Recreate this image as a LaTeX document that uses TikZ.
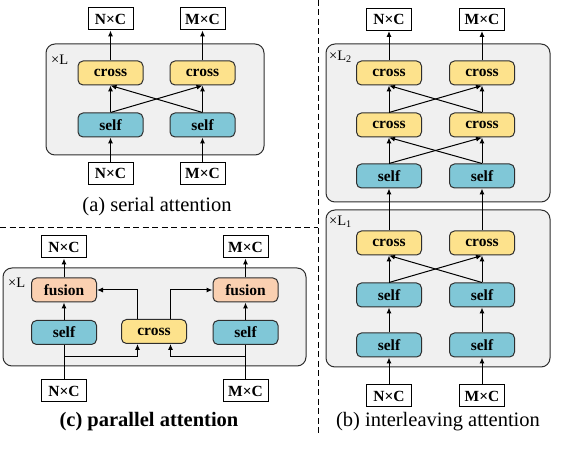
\documentclass[tikz,border=0pt]{standalone}
\usepackage{fontspec}
\setmainfont{Liberation Serif}[BoldFont={Liberation Serif Bold}]
\usetikzlibrary{positioning, arrows.meta, calc}
\definecolor{crossyel}{HTML}{FDE28C}
\definecolor{selfblue}{HTML}{80C7D7}
\definecolor{fusepeach}{HTML}{FAD0B1}
\definecolor{layergray}{HTML}{F0F0F0}
\definecolor{edgegray}{HTML}{2E2E2E}
\tikzset{blk/.style={draw=edgegray, line width=1pt, rounded corners=5pt, minimum width=65pt, minimum height=24pt, inner sep=0pt, font=\fontsize{15.5}{16}\selectfont\bfseries}}
\tikzset{crossblk/.style={blk, fill=crossyel}, selfblk/.style={blk, fill=selfblue}, fuseblk/.style={blk, fill=fusepeach}}
\tikzset{io/.style={draw, line width=1pt, fill=white, minimum width=45pt, minimum height=22pt, inner sep=0pt, font=\fontsize{15.5}{16}\selectfont\bfseries}}
\tikzset{layer/.style={draw=edgegray, line width=1pt, fill=layergray, rounded corners=9pt}}
\tikzset{arr/.style={-{Latex[length=6pt,width=5pt]}, line width=1pt}}
\tikzset{capt/.style={font=\fontsize{20.5}{22}\selectfont}, rep/.style={anchor=west, inner sep=0pt, font=\fontsize{14.5}{15}\selectfont}}

\begin{document}
\begin{tikzpicture}[x=1pt, y=1pt]
    \useasboundingbox (0,0) rectangle (582,472);

    % separators
    \draw[dashed, dash pattern=on 6pt off 3.5pt, line width=1pt] (318,472) -- (318,39);
    \draw[dashed, dash pattern=on 6pt off 3.5pt, line width=1pt] (0,244) -- (318,244);

    % (a) serial
    \draw[layer] (46,428) rectangle (264,317);
    \node[rep] (aRep) at (51,412) {×L};

    \node[crossblk] (aCrossN) at (110.5,399) {cross};
    \node[crossblk] (aCrossM) at (202.5,399) {cross};
    \node[selfblk, below=27pt of aCrossN] (aSelfN) {self};
    \node[selfblk, below=27pt of aCrossM] (aSelfM) {self};

    \node[io, above=30pt of aCrossN] (aOutN) {N×C};
    \node[io, above=30pt of aCrossM] (aOutM) {M×C};
    \node[io, below=24.5pt of aSelfN] (aInN) {N×C};
    \node[io, below=24.5pt of aSelfM] (aInM) {M×C};

    \draw[arr] (aInN) -- (aSelfN);
    \draw[arr] (aInM) -- (aSelfM);
    \draw[arr] (aSelfN) -- (aCrossN);
    \draw[arr] (aSelfM) -- (aCrossM);
    \draw[arr] (aSelfN.north) -- (aCrossM.south);
    \draw[arr] (aSelfM.north) -- (aCrossN.south);
    \draw[arr] (aCrossN) -- (aOutN);
    \draw[arr] (aCrossM) -- (aOutM);

    \node[capt] (capA) at (157,265) {(a) serial attention};

    % (c) parallel
    \draw[layer] (3,204) rectangle (306,106);
    \node[rep] (cRep) at (8,189) {×L};

    \node[fuseblk] (cFuseN) at (64,182) {fusion};
    \node[fuseblk] (cFuseM) at (245.5,182) {fusion};
    \node[selfblk, below=17.5pt of cFuseN] (cSelfN) {self};
    \node[selfblk, below=17.5pt of cFuseM] (cSelfM) {self};
    \node[crossblk] (cCross) at (154,140.5) {cross};

    \node[io, above=19pt of cFuseN] (cOutN) {N×C};
    \node[io, above=19pt of cFuseM] (cOutM) {M×C};
    \node[io, below=34.5pt of cSelfN] (cInN) {N×C};
    \node[io, below=34.5pt of cSelfM] (cInM) {M×C};

    \coordinate (cSplitN) at (64,115);
    \coordinate (cSplitM) at (245.5,115);

    \draw (cInN) -- (cSelfN);
    \draw (cInM) -- (cSelfM);
    \draw[arr] (cSplitN) -| ([xshift=-16.5pt]cCross.south);
    \draw[arr] (cSplitM) -| ([xshift=16.5pt]cCross.south);
    \draw[arr] ([xshift=-16.5pt]cCross.north) |- (cFuseN.east);
    \draw[arr] ([xshift=16.5pt]cCross.north) |- (cFuseM.west);
    \draw[arr] (cSelfN) -- (cFuseN);
    \draw[arr] (cSelfM) -- (cFuseM);
    \draw[arr] (cFuseN) -- (cOutN);
    \draw[arr] (cFuseM) -- (cOutM);

    \node[capt, font=\fontsize{20.5}{22}\selectfont\bfseries] (capC) at (149,50) {(c) parallel attention};

    % (b) interleaving
    \draw[layer] (326,428) rectangle (550,270);
    \draw[layer] (326,262) rectangle (550,105);
    \node[rep] (bRepTwo) at (329,415) {×L\textsubscript{2}};
    \node[rep] (bRepOne) at (329,250) {×L\textsubscript{1}};

    \node[crossblk] (bTopN) at (389,399) {cross};
    \node[crossblk] (bTopM) at (482,399) {cross};
    \node[crossblk, below=27pt of bTopN] (bMidN) {cross};
    \node[crossblk, below=27pt of bTopM] (bMidM) {cross};
    \node[selfblk, below=26pt of bMidN] (bSelfN) {self};
    \node[selfblk, below=26pt of bMidM] (bSelfM) {self};

    \node[crossblk, below=42pt of bSelfN] (bLowN) {cross};
    \node[crossblk, below=42pt of bSelfM] (bLowM) {cross};
    \node[selfblk, below=27pt of bLowN] (bSelfAN) {self};
    \node[selfblk, below=27pt of bLowM] (bSelfAM) {self};
    \node[selfblk, below=25pt of bSelfAN] (bSelfBN) {self};
    \node[selfblk, below=25pt of bSelfAM] (bSelfBM) {self};

    \node[io, above=29.5pt of bTopN] (bOutN) {N×C};
    \node[io, above=29.5pt of bTopM] (bOutM) {M×C};
    \node[io, below=27pt of bSelfBN] (bInN) {N×C};
    \node[io, below=27pt of bSelfBM] (bInM) {M×C};

    \draw[arr] (bInN) -- (bSelfBN);
    \draw[arr] (bInM) -- (bSelfBM);
    \draw[arr] (bSelfBN) -- (bSelfAN);
    \draw[arr] (bSelfBM) -- (bSelfAM);
    \draw[arr] (bSelfAN) -- (bLowN);
    \draw[arr] (bSelfAM) -- (bLowM);
    \draw[arr] (bSelfAN.north) -- (bLowM.south);
    \draw[arr] (bSelfAM.north) -- (bLowN.south);
    \draw[arr] (bLowN) -- (bSelfN);
    \draw[arr] (bLowM) -- (bSelfM);
    \draw[arr] (bSelfN) -- (bMidN);
    \draw[arr] (bSelfM) -- (bMidM);
    \draw[arr] (bSelfN.north) -- (bMidM.south);
    \draw[arr] (bSelfM.north) -- (bMidN.south);
    \draw[arr] (bMidN) -- (bTopN);
    \draw[arr] (bMidM) -- (bTopM);
    \draw[arr] (bMidN.north) -- (bTopM.south);
    \draw[arr] (bMidM.north) -- (bTopN.south);
    \draw[arr] (bTopN) -- (bOutN);
    \draw[arr] (bTopM) -- (bOutM);

    \node[capt] (capB) at (438,50) {(b) interleaving attention};
\end{tikzpicture}
\end{document}
